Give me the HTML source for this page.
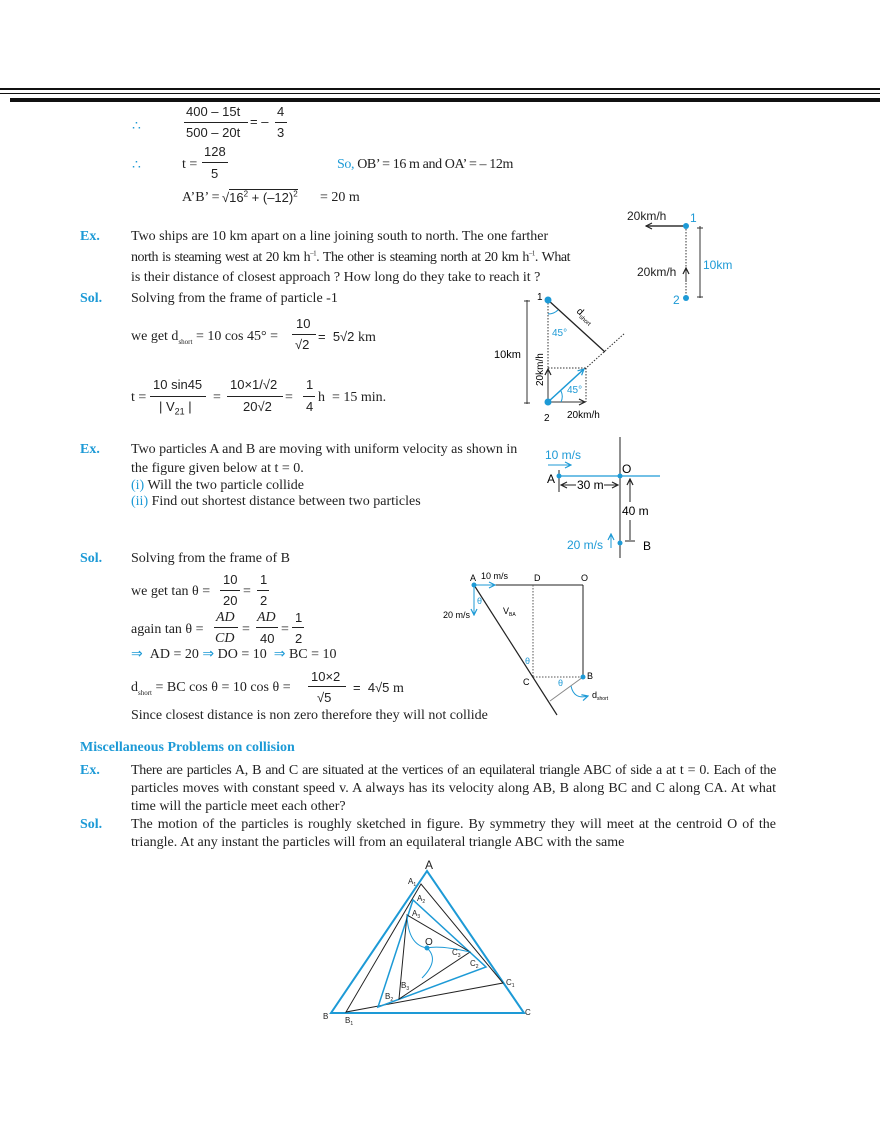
<!DOCTYPE html>
<html><head><meta charset="utf-8">
<style>
*{margin:0;padding:0;box-sizing:border-box}
body{width:880px;height:1139px;position:relative;background:#fff;font-family:"Liberation Serif",serif;font-size:14px;color:#222;overflow:hidden}
.t{position:absolute;white-space:nowrap;line-height:16px}
.s{font-family:"Liberation Sans",sans-serif;font-size:13px}
.b{color:#1d9ad6}
.h{color:#1d9ad6;font-weight:bold;font-size:14px}
.fl{position:absolute;height:1px;background:#222}
.j{text-align:justify;text-align-last:justify}
sub,sup{line-height:0}
sub{font-size:7px}
svg{position:absolute;left:0;top:0}
</style></head><body>
<div style="position:absolute;left:0;top:88px;width:880px;height:2px;background:#111"></div>
<div style="position:absolute;left:0;top:93px;width:880px;height:1px;background:#111"></div>
<div style="position:absolute;left:10px;top:98px;width:870px;height:4px;background:#111"></div>

<div class="t b" style="left:132px;top:119px">∴</div>
<div class="t s" style="left:186px;top:104px">400 – 15t</div>
<div class="fl" style="left:184px;top:122px;width:64px"></div>
<div class="t s" style="left:186px;top:125px">500 – 20t</div>
<div class="t s" style="left:250px;top:114px">= –</div>
<div class="t s" style="left:277px;top:104px">4</div>
<div class="fl" style="left:275px;top:122px;width:12px"></div>
<div class="t s" style="left:277px;top:125px">3</div>

<div class="t b" style="left:132px;top:158px">∴</div>
<div class="t" style="left:182px;top:157px">t =</div>
<div class="t s" style="left:204px;top:144px">128</div>
<div class="fl" style="left:202px;top:162px;width:26px"></div>
<div class="t s" style="left:211px;top:166px">5</div>
<div class="t" style="left:337px;top:157px;letter-spacing:-0.4px"><span class="b">So,</span> OB’ = 16 m and OA’ = – 12m</div>
<div class="t" style="left:182px;top:190px">A’B’ = </div>
<div class="t s" style="left:222px;top:190px">√<span style="border-top:1px solid #222">16<sup style="font-size:8px">2</sup> + (–12)<sup style="font-size:8px">2</sup></span></div>
<div class="t" style="left:320px;top:190px">= 20 m</div>

<div class="t h" style="left:80px;top:229px">Ex.</div>
<div class="t j" style="left:131px;top:229px;width:414px">Two ships are 10 km apart on a line joining south to north. The one farther</div>
<div class="t j" style="left:131px;top:250px;width:439px;letter-spacing:-0.5px">north is steaming west at 20 km h<sup style="font-size:7px">–1</sup>. The other is steaming north at 20 km h<sup style="font-size:7px">–1</sup>. What</div>
<div class="t" style="left:131px;top:270px">is their distance of closest approach ? How long do they take to reach it ?</div>
<div class="t h" style="left:80px;top:291px">Sol.</div>
<div class="t" style="left:131px;top:291px">Solving from the frame of particle -1</div>
<div class="t" style="left:131px;top:329px">we get d<sub>short</sub> = 10 cos 45° =</div>
<div class="t s" style="left:296px;top:316px">10</div>
<div class="fl" style="left:292px;top:334px;width:24px"></div>
<div class="t s" style="left:295px;top:337px">√2</div>
<div class="t s" style="left:318px;top:329px">= &nbsp;5√2 <span style="font-family:'Liberation Serif',serif;font-size:14px">km</span></div>

<div class="t" style="left:131px;top:390px">t =</div>
<div class="t s" style="left:153px;top:377px">10 sin45</div>
<div class="fl" style="left:150px;top:396px;width:56px"></div>
<div class="t s" style="left:159px;top:399px">| V<sub style="font-size:9px">21</sub> |</div>
<div class="t" style="left:213px;top:390px">=</div>
<div class="t s" style="left:230px;top:377px">10×1/√2</div>
<div class="fl" style="left:227px;top:396px;width:56px"></div>
<div class="t s" style="left:243px;top:399px">20√2</div>
<div class="t" style="left:285px;top:390px">=</div>
<div class="t s" style="left:306px;top:377px">1</div>
<div class="fl" style="left:303px;top:396px;width:12px"></div>
<div class="t s" style="left:306px;top:399px">4</div>
<div class="t" style="left:318px;top:390px">h &nbsp;= 15 min.</div>

<div class="t h" style="left:80px;top:442px">Ex.</div>
<div class="t" style="left:131px;top:442px">Two particles A and B are moving with uniform velocity as shown in</div>
<div class="t" style="left:131px;top:461px">the figure given below at t = 0.</div>
<div class="t" style="left:131px;top:478px"><span class="b">(i)</span> Will the two particle collide</div>
<div class="t" style="left:131px;top:494px"><span class="b">(ii)</span> Find out shortest distance between two particles</div>

<div class="t h" style="left:80px;top:551px">Sol.</div>
<div class="t" style="left:131px;top:551px">Solving from the frame of B</div>
<div class="t" style="left:131px;top:584px">we get tan θ =</div>
<div class="t s" style="left:223px;top:572px">10</div>
<div class="fl" style="left:220px;top:590px;width:20px"></div>
<div class="t s" style="left:223px;top:593px">20</div>
<div class="t" style="left:243px;top:584px">=</div>
<div class="t s" style="left:260px;top:572px">1</div>
<div class="fl" style="left:257px;top:590px;width:12px"></div>
<div class="t s" style="left:260px;top:593px">2</div>
<div class="t" style="left:131px;top:622px">again tan θ =</div>
<div class="t" style="left:216px;top:610px;font-style:italic">AD</div>
<div class="fl" style="left:214px;top:627px;width:24px"></div>
<div class="t" style="left:215px;top:631px;font-style:italic">CD</div>
<div class="t" style="left:242px;top:622px">=</div>
<div class="t" style="left:257px;top:610px;font-style:italic">AD</div>
<div class="fl" style="left:256px;top:627px;width:22px"></div>
<div class="t s" style="left:260px;top:631px">40</div>
<div class="t" style="left:281px;top:622px">=</div>
<div class="t s" style="left:295px;top:610px">1</div>
<div class="fl" style="left:292px;top:627px;width:12px"></div>
<div class="t s" style="left:295px;top:631px">2</div>
<div class="t" style="left:131px;top:647px"><span class="b">⇒</span> &nbsp;AD = 20 <span class="b">⇒</span> DO = 10 &nbsp;<span class="b">⇒</span> BC = 10</div>
<div class="t" style="left:131px;top:680px">d<sub>short</sub> = BC cos θ = 10 cos θ =</div>
<div class="t s" style="left:311px;top:669px">10×2</div>
<div class="fl" style="left:308px;top:686px;width:38px"></div>
<div class="t s" style="left:317px;top:690px">√5</div>
<div class="t s" style="left:353px;top:680px">= &nbsp;4√5 <span style="font-family:'Liberation Serif',serif;font-size:14px">m</span></div>
<div class="t" style="left:131px;top:708px">Since closest distance is non zero therefore they will not collide</div>

<div class="t h" style="left:80px;top:740px">Miscellaneous Problems on collision</div>
<div class="t h" style="left:80px;top:763px">Ex.</div>
<div class="t j" style="left:131px;top:763px;width:645px;letter-spacing:-0.3px">There are particles A, B and C are situated at the vertices of an equilateral triangle ABC of side a at t = 0. Each of the</div>
<div class="t j" style="left:131px;top:781px;width:645px">particles moves with constant speed v. A always has its velocity along AB, B along BC and C along CA. At what</div>
<div class="t" style="left:131px;top:799px">time will the particle meet each other?</div>
<div class="t h" style="left:80px;top:817px">Sol.</div>
<div class="t j" style="left:131px;top:817px;width:645px">The motion of the particles is roughly sketched in figure. By symmetry they will meet at the centroid O of the</div>
<div class="t" style="left:131px;top:835px">triangle. At any instant the particles will from an equilateral triangle ABC with the same</div>

<svg width="880" height="1139" font-family="Liberation Sans, sans-serif">
<defs>
<marker id="ak" markerWidth="8" markerHeight="8" refX="7" refY="4" orient="auto" markerUnits="userSpaceOnUse"><path d="M1,1 L7,4 L1,7" fill="none" stroke="#222" stroke-width="1.2"/></marker>
<marker id="ab" markerWidth="8" markerHeight="8" refX="7" refY="4" orient="auto" markerUnits="userSpaceOnUse"><path d="M1,1 L7,4 L1,7" fill="none" stroke="#1d9ad6" stroke-width="1.2"/></marker>
</defs>
<g font-size="12">
<text x="627" y="220" fill="#222">20km/h</text>
<line x1="685" y1="226" x2="646" y2="226" stroke="#333" stroke-width="1.5" marker-end="url(#ak)"/>
<line x1="686" y1="226" x2="686" y2="298" stroke="#333" stroke-dasharray="1.5,1.5"/>
<line x1="686" y1="282" x2="686" y2="268" stroke="#333" marker-end="url(#ak)"/>
<circle cx="686" cy="226" r="3" fill="#1d9ad6"/><circle cx="686" cy="298" r="3" fill="#1d9ad6"/>
<text x="690" y="222" fill="#1d9ad6">1</text><text x="673" y="304" fill="#1d9ad6">2</text>
<text x="637" y="276" fill="#222">20km/h</text>
<line x1="700" y1="226" x2="700" y2="298" stroke="#333"/>
<line x1="697" y1="228" x2="703" y2="228" stroke="#333"/><line x1="697" y1="297" x2="703" y2="297" stroke="#333"/>
<text x="703" y="269" fill="#1d9ad6">10km</text>
</g>
<g font-size="10">
<line x1="548" y1="300" x2="548" y2="402" stroke="#333" stroke-dasharray="1.5,1.5"/>
<line x1="548" y1="300" x2="605" y2="352" stroke="#222" stroke-width="1.3"/>
<line x1="585" y1="369" x2="625" y2="333" stroke="#333" stroke-dasharray="1.5,1.5"/>
<line x1="548" y1="368" x2="586" y2="368" stroke="#333" stroke-dasharray="1.5,1.5"/>
<line x1="586" y1="368" x2="586" y2="402" stroke="#333" stroke-dasharray="1.5,1.5"/>
<line x1="548" y1="402" x2="584" y2="369" stroke="#1d9ad6" stroke-width="1.5" marker-end="url(#ab)"/>
<line x1="548" y1="402" x2="548" y2="369" stroke="#333" marker-end="url(#ak)"/>
<line x1="548" y1="402" x2="585" y2="402" stroke="#333" marker-end="url(#ak)"/>
<circle cx="548" cy="300" r="3.5" fill="#1d9ad6"/><circle cx="548" cy="402" r="3.5" fill="#1d9ad6"/>
<line x1="527" y1="300" x2="527" y2="404" stroke="#333"/>
<line x1="524" y1="301" x2="530" y2="301" stroke="#333"/><line x1="524" y1="403" x2="530" y2="403" stroke="#333"/>
<text x="494" y="358" font-size="11">10km</text>
<text x="537" y="300">1</text><text x="544" y="421">2</text>
<text x="567" y="418">20km/h</text>
<text transform="translate(543,386) rotate(-90)">20km/h</text>
<text x="552" y="336" fill="#1d9ad6">45°</text><text x="567" y="393" fill="#1d9ad6">45°</text>
<path d="M548,314 A14,14 0 0 0 558,310" fill="none" stroke="#1d9ad6"/>
<path d="M561,391 A13,13 0 0 1 561,402" fill="none" stroke="#1d9ad6"/>
<text transform="translate(576,312) rotate(42)">d<tspan font-size="6" dy="2">short</tspan></text>
</g>
<g font-size="12">
<line x1="620" y1="437" x2="620" y2="558" stroke="#222"/>
<line x1="558" y1="476" x2="660" y2="476" stroke="#1d9ad6" stroke-width="1.2"/>
<line x1="559" y1="470" x2="559" y2="492" stroke="#222"/>
<circle cx="559" cy="476" r="2.5" fill="#1d9ad6"/><circle cx="620" cy="476" r="2.5" fill="#1d9ad6"/><circle cx="620" cy="543" r="2.5" fill="#1d9ad6"/>
<text x="545" y="459" fill="#1d9ad6">10 m/s</text>
<line x1="548" y1="465" x2="571" y2="465" stroke="#1d9ad6" marker-end="url(#ab)"/>
<text x="547" y="483">A</text><text x="622" y="473">O</text><text x="643" y="550">B</text>
<text x="577" y="489">30 m</text>
<line x1="576" y1="485" x2="561" y2="485" stroke="#222" marker-end="url(#ak)"/>
<line x1="604" y1="485" x2="618" y2="485" stroke="#222" marker-end="url(#ak)"/>
<text x="622" y="515">40 m</text>
<line x1="630" y1="502" x2="630" y2="479" stroke="#222" marker-end="url(#ak)"/>
<line x1="630" y1="520" x2="630" y2="540" stroke="#222"/><line x1="625" y1="541" x2="635" y2="541" stroke="#222"/>
<text x="567" y="549" fill="#1d9ad6">20 m/s</text>
<line x1="611" y1="548" x2="611" y2="534" stroke="#1d9ad6" marker-end="url(#ab)"/>
</g>
<g font-size="9">
<line x1="474" y1="585" x2="583" y2="585" stroke="#222"/>
<line x1="583" y1="585" x2="583" y2="677" stroke="#222"/>
<line x1="533" y1="585" x2="533" y2="677" stroke="#555" stroke-dasharray="1.5,1.5"/>
<line x1="533" y1="677" x2="583" y2="677" stroke="#555" stroke-dasharray="1.5,1.5"/>
<line x1="474" y1="585" x2="557" y2="715" stroke="#222" stroke-width="1.2"/>
<line x1="583" y1="677" x2="550" y2="701" stroke="#888"/>
<line x1="474" y1="585" x2="495" y2="585" stroke="#1d9ad6" marker-end="url(#ab)"/>
<line x1="474" y1="585" x2="474" y2="615" stroke="#1d9ad6" marker-end="url(#ab)"/>
<circle cx="474" cy="585" r="2.5" fill="#1d9ad6"/><circle cx="583" cy="677" r="2.5" fill="#1d9ad6"/>
<text x="470" y="581">A</text><text x="481" y="579">10 m/s</text>
<text x="534" y="581">D</text><text x="581" y="581">O</text>
<text x="443" y="618">20 m/s</text>
<text x="503" y="614">V<tspan font-size="5" dy="2">BA</tspan></text>
<text x="477" y="604" fill="#1d9ad6">θ</text><text x="525" y="664" fill="#1d9ad6">θ</text><text x="558" y="686" fill="#1d9ad6">θ</text>
<text x="523" y="685">C</text><text x="587" y="679">B</text>
<text x="592" y="698">d<tspan font-size="5" dy="2">short</tspan></text>
<path d="M571,686 Q574,700 588,696" fill="none" stroke="#1d9ad6" marker-end="url(#ab)"/>
</g>
<g stroke-width="1.5" fill="none">
<polygon points="427,871 331,1013 524,1013" stroke="#1d9ad6" stroke-width="2"/>
<polygon points="421,884 346,1012 503,983" stroke="#222" stroke-width="1"/>
<polygon points="413,900 378,1007 486,967" stroke="#1d9ad6"/>
<polygon points="407,915 399,999 470,952" stroke="#222" stroke-width="1"/>
<path d="M407,915 Q408,945 427,948" stroke="#1d9ad6" stroke-width="1"/>
<path d="M470,952 Q440,945 427,948" stroke="#1d9ad6" stroke-width="1"/>
<path d="M422,978 Q440,960 427,948" stroke="#1d9ad6" stroke-width="1"/>
</g>
<circle cx="427" cy="948" r="2.5" fill="#1d9ad6"/>
<g font-size="8" fill="#222">
<text x="425" y="869" font-size="12">A</text>
<text x="408" y="884">A<tspan font-size="5" dy="2">1</tspan></text>
<text x="417" y="901">A<tspan font-size="5" dy="2">2</tspan></text>
<text x="412" y="916">A<tspan font-size="5" dy="2">3</tspan></text>
<text x="425" y="945" font-size="10">O</text>
<text x="452" y="955">C<tspan font-size="5" dy="2">3</tspan></text>
<text x="470" y="966">C<tspan font-size="5" dy="2">2</tspan></text>
<text x="506" y="985">C<tspan font-size="5" dy="2">1</tspan></text>
<text x="525" y="1015">C</text>
<text x="401" y="988">B<tspan font-size="5" dy="2">3</tspan></text>
<text x="385" y="999">B<tspan font-size="5" dy="2">2</tspan></text>
<text x="323" y="1019">B</text>
<text x="345" y="1023">B<tspan font-size="5" dy="2">1</tspan></text>
</g>
</svg>
</body></html>
